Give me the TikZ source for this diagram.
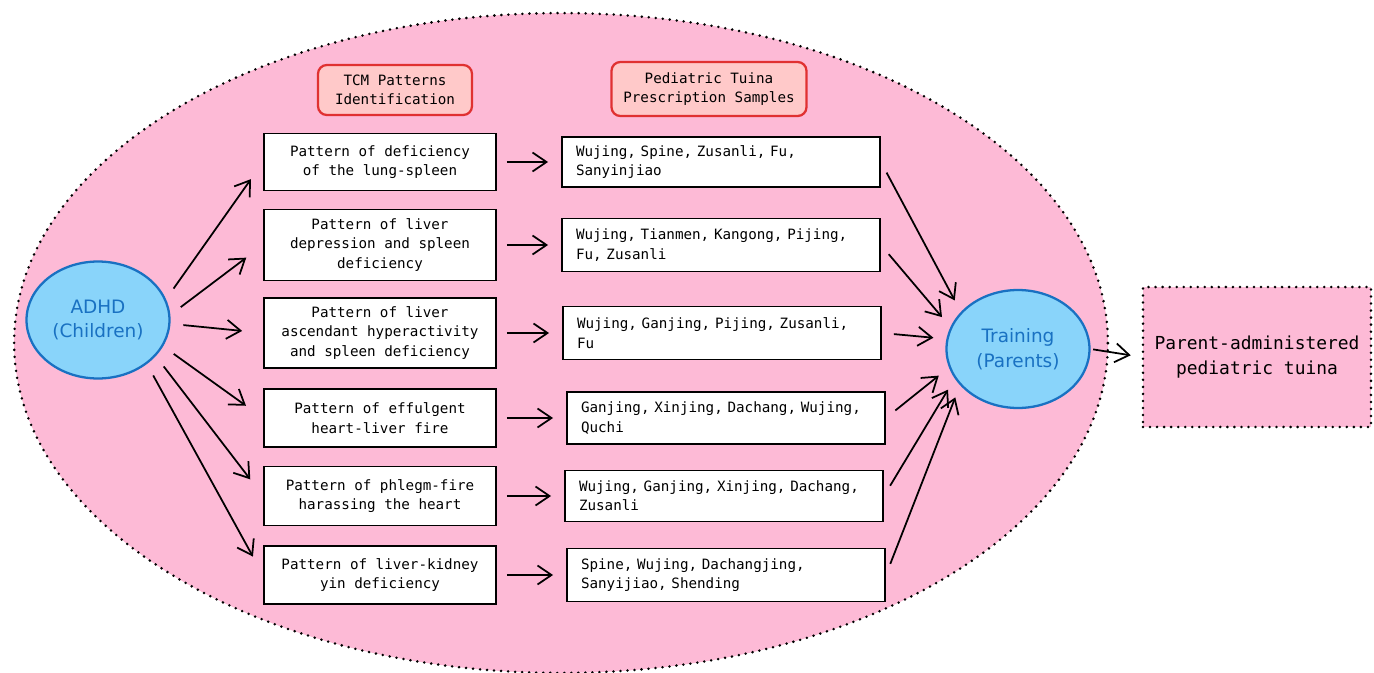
\documentclass[tikz,border=0pt]{standalone}
\usepackage{fontspec}
\setmonofont{DejaVu Sans Mono}
\setsansfont{DejaVu Sans}
\usetikzlibrary{arrows.meta,shapes.geometric}
\definecolor{blush}{HTML}{FDBAD6}
\definecolor{headfill}{HTML}{FFC9C9}
\definecolor{headline}{HTML}{E03131}
\definecolor{sky}{HTML}{89D4FA}
\definecolor{skyline}{HTML}{1971C2}
\tikzset{pattbox/.style={draw,line width=1.1pt,fill=white,minimum width=4.64cm,align=center,inner sep=0pt,
    font=\ttfamily\fontsize{8.1}{11}\selectfont},
  presbox/.style={draw,line width=1.1pt,fill=white,text width=5.8cm,align=left,inner xsep=.28cm,inner ysep=0pt,
    font=\ttfamily\fontsize{8.1}{11}\selectfont},
  headbox/.style={draw=headline,line width=1.3pt,fill=headfill,rounded corners=5pt,align=center,inner sep=0pt,
    font=\ttfamily\fontsize{8.1}{11}\selectfont},
  bubble/.style={ellipse,draw=skyline,line width=1.3pt,fill=sky,text=skyline,minimum width=2.86cm,
    minimum height=2.34cm,inner sep=0pt,align=center,font=\sffamily\fontsize{10.5}{14}\selectfont},
  dotline/.style={line width=1.6pt,dash pattern=on 0pt off 4pt,line cap=round},
  flow/.style={-{Straight Barb[length=2.8mm,width=3.8mm]},line width=1pt}}

\begin{document}
\begin{tikzpicture}[x=.02cm,y=-.02cm]
\useasboundingbox (0,0) rectangle (1374,673);
\draw[dotline,fill=blush] (561,343) ellipse [x radius=10.94cm,y radius=6.6cm];
\node[headbox,minimum width=3.08cm,minimum height=1cm] (hdA) at (395,90) {TCM Patterns\\Identification};
\node[headbox,minimum width=3.9cm,minimum height=1.08cm] (hdB) at (709,89) {Pediatric Tuina\\Prescription Samples};
\node[bubble] (adhd) at (98,320) {ADHD\\(Children)};
\node[bubble,minimum height=2.36cm] (train) at (1018,349) {Training\\(Parents)};
\node[dotline,draw,fill=blush,minimum width=4.56cm,minimum height=2.8cm,align=center,
  font=\ttfamily\fontsize{10.2}{14.7}\selectfont] (parent) at (1257,357)
  {Parent-administered\\pediatric tuina};
\foreach \i/\yy/\hl/\hr/\xr/\lt/\rt in {
  1/162/1.14/1.0/721/{Pattern of deficiency\\of the lung-spleen}/{Wujing, Spine, Zusanli, Fu,\\Sanyinjiao},
  2/245/1.42/1.06/721/{Pattern of liver\\depression and spleen\\deficiency}/{Wujing, Tianmen, Kangong, Pijing,\\Fu, Zusanli},
  3/333/1.40/1.06/722/{Pattern of liver\\ascendant hyperactivity\\and spleen deficiency}/{Wujing, Ganjing, Pijing, Zusanli,\\Fu},
  4/418/1.16/1.04/726/{Pattern of effulgent\\heart-liver fire}/{Ganjing, Xinjing, Dachang, Wujing,\\Quchi},
  5/496/1.18/1.02/724/{Pattern of phlegm-fire\\harassing the heart}/{Wujing, Ganjing, Xinjing, Dachang,\\Zusanli},
  6/575/1.16/1.06/726/{Pattern of liver-kidney\\yin deficiency}/{Spine, Wujing, Dachangjing,\\Sanyijiao, Shending}} {
 \node[pattbox,minimum height=\hl cm] (pat\i) at (380,\yy) {\lt};
 \node[presbox,minimum height=\hr cm] (rx\i) at (\xr,\yy) {\rt};
 \draw[flow,shorten <=.2cm,shorten >=.26cm] (pat\i.east) -- (rx\i.west);
}
\foreach \i/\a in {1/17,2/4,3/-3,4/-22,5/-32,6/-42}
 \draw[flow,shorten <=.26cm,shorten >=.42cm] (adhd.\a) -- (pat\i.west);
\foreach \i/\a in {1/147,2/162,3/172,4/195,5/205,6/212}
 \draw[flow,shorten <=.24cm,shorten >=.26cm] (rx\i.east) -- (train.\a);
\draw[flow,shorten <=.05cm,shorten >=.22cm] (train.east) -- (parent.west);
\end{tikzpicture}
\end{document}
